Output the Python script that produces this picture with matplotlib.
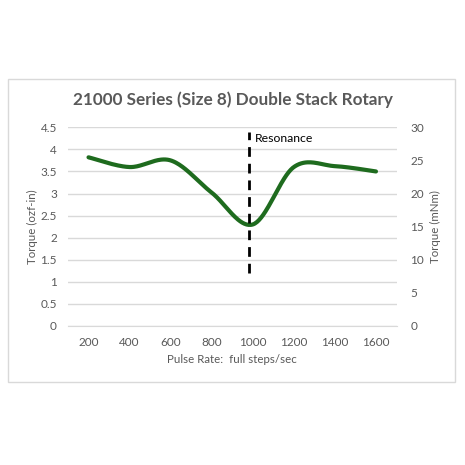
import numpy as np
import matplotlib
matplotlib.use("Agg")
import matplotlib.pyplot as plt
from matplotlib.patches import Rectangle

# data
pulse_rate = [200, 400, 600, 800, 1000, 1200, 1400, 1600]
torque_ozf = [3.82, 3.60, 3.75, 3.02, 2.30, 3.60, 3.62, 3.50]
resonance_pos = 3.92  # category position (about 1000 steps/sec)
resonance_span = [1.2, 4.4]
left_ticks = [0, 0.5, 1, 1.5, 2, 2.5, 3, 3.5, 4, 4.5]
right_ticks = [0, 5, 10, 15, 20, 25, 30]

plt.rcParams['font.family'] = ['Lato', 'DejaVu Sans']
grey = '#595959'


def excel_smooth(xs, ys, n=40):
    # Catmull-Rom style bezier like Excel's "smoothed line"
    xs = np.asarray(xs, float)
    ys = np.asarray(ys, float)
    px, py = [], []
    for i in range(len(xs) - 1):
        x0, y0 = (xs[i - 1], ys[i - 1]) if i > 0 else (xs[i], ys[i])
        x3, y3 = (xs[i + 2], ys[i + 2]) if i + 2 < len(xs) else (xs[i + 1], ys[i + 1])
        x1, y1, x2, y2 = xs[i], ys[i], xs[i + 1], ys[i + 1]
        c1x, c1y = x1 + (x2 - x0) / 6, y1 + (y2 - y0) / 6
        c2x, c2y = x2 - (x3 - x1) / 6, y2 - (y3 - y1) / 6
        t = np.linspace(0, 1, n)
        bx = (1-t)**3*x1 + 3*(1-t)**2*t*c1x + 3*(1-t)*t**2*c2x + t**3*x2
        by = (1-t)**3*y1 + 3*(1-t)**2*t*c1y + 3*(1-t)*t**2*c2y + t**3*y2
        px.extend(bx)
        py.extend(by)
    return np.array(px), np.array(py)


fig = plt.figure(figsize=(4.65, 4.65), dpi=100)
fig.patches.append(Rectangle((7.5/465, 1-382/465), 447/465, 303/465,
                             transform=fig.transFigure, fill=False,
                             edgecolor='#d9d9d9', lw=1))

ax = fig.add_axes([68/465, 1-326/465, 328.5/465, 198.7/465])
pos = np.arange(len(pulse_rate))
sx, sy = excel_smooth(pos, torque_ozf)
ax.plot(sx, sy, color='#1e6b1e', lw=3, solid_capstyle='round', zorder=3)

ax.vlines(resonance_pos, resonance_span[0], resonance_span[1], colors='black',
          linestyles=(0, (3.5, 2.5)), lw=2, zorder=4)
ax.text(resonance_pos + 0.12, 4.24, 'Resonance', fontsize=8.8, color='black',
        va='center', ha='left')

ax.set_xlim(-0.5, len(pulse_rate) - 0.5)
ax.set_ylim(0, 4.5)
ax.set_xticks(pos)
ax.set_xticklabels([str(p) for p in pulse_rate])
ax.set_yticks(left_ticks)
ax.set_yticklabels(['0', '0.5', '1', '1.5', '2', '2.5', '3', '3.5', '4', '4.5'])
ax.grid(axis='y', color='#d9d9d9', lw=1)
ax.set_axisbelow(True)
for s in ax.spines.values():
    s.set_visible(False)
ax.spines['bottom'].set_visible(True)
ax.spines['bottom'].set_color('#d9d9d9')
ax.tick_params(length=0, colors=grey, labelsize=8.5, pad=8)
ax.tick_params(axis='y', pad=8)
ax.set_ylabel('Torque (ozf-in)', color=grey, fontsize=8.3, labelpad=2)
ax.set_xlabel('Pulse Rate:  full steps/sec', color=grey, fontsize=8.3, labelpad=4)

ax2 = ax.twinx()
ax2.set_ylim(0, 30)
ax2.set_yticks(right_ticks)
for s in ax2.spines.values():
    s.set_visible(False)
ax2.tick_params(length=0, colors=grey, labelsize=8.5, pad=10)
ax2.set_ylabel('Torque (mNm)', color=grey, fontsize=8.3, labelpad=4)

fig.text(0.5, 1-100/465, '21000 Series (Size 8) Double Stack Rotary',
         ha='center', va='center', fontsize=12.3, fontweight='bold', color=grey)

fig.savefig('out.png', dpi=100)
